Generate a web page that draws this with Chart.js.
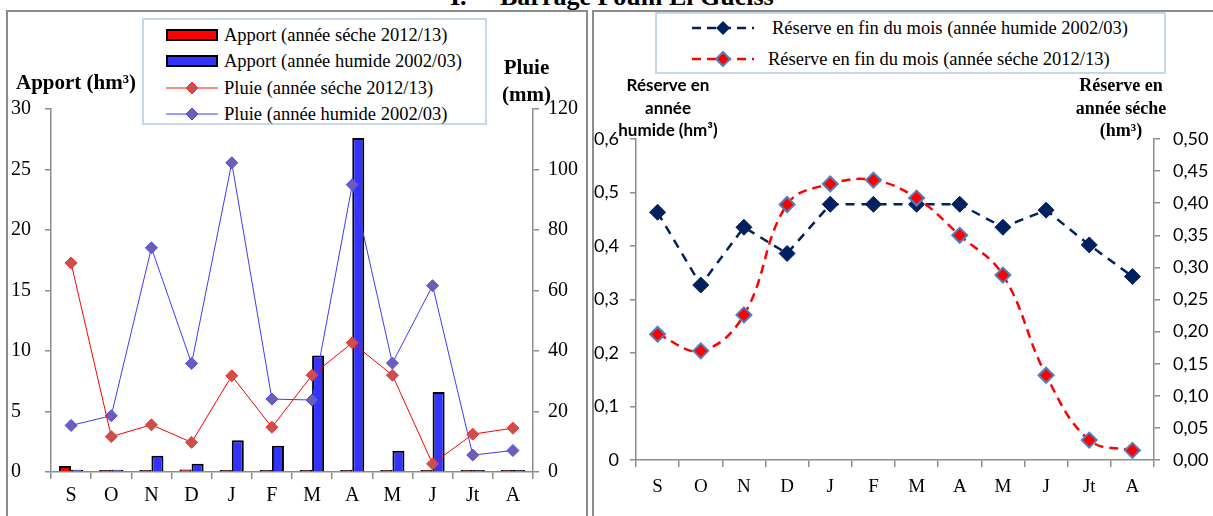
<!DOCTYPE html>
<html lang="fr">
<head>
<meta charset="utf-8">
<script src="https://cdn.jsdelivr.net/npm/chart.js@4.4.1/dist/chart.umd.min.js"></script>
<style>
  body { margin:0; width:1213px; height:516px; overflow:hidden; background:#fff; position:relative;
         font-family:'Liberation Serif', serif; color:#000 }
  .boite { position:absolute; border:2px solid #8c8c8c; box-sizing:border-box }
  canvas { position:absolute; top:0 }
  .titre { position:absolute; top:-16px; font:bold 26px/26px 'Liberation Serif', serif; white-space:nowrap }
  .legende { position:absolute; border:2px solid #c6d6ec; box-sizing:border-box; background:#fff }
  .ligne-leg { position:absolute; display:flex; align-items:center; white-space:nowrap }
  .ligne-leg svg { flex:none }
  .axe-titre { position:absolute; font-weight:bold; text-align:center; white-space:nowrap }
</style>
</head>
<body>

<!-- ── Cadres et titre ───────────────────────── -->
<div class="boite" style="left:6px;top:10px;width:582px;height:520px"></div>
<div class="boite" style="left:592px;top:10px;width:640px;height:520px"></div>
<div class="titre" style="left:450px">I.</div>
<div class="titre" style="left:500px">Barrage Foum El Gueiss</div>

<canvas id="graphe-apport" width="590" height="516" style="left:0"></canvas>
<canvas id="graphe-reserve" width="619" height="516" style="left:594px"></canvas>

<!-- ── Titres des axes ───────────────────────── -->
<div class="axe-titre" style="left:16px;top:70px;font-size:21px;line-height:24px">Apport (hm³)</div>
<div class="axe-titre" style="left:502px;top:54px;font-size:21px;line-height:27px">Pluie<br>(mm)</div>
<div class="axe-titre" style="left:609px;top:74px;width:118px;font:bold 17px/22.5px Lato, sans-serif">Réserve en<br>année<br>humide (hm³)</div>
<div class="axe-titre" style="left:1061px;top:74px;width:120px;font:bold 18px/22.5px 'Liberation Serif', serif">Réserve en<br>année séche<br>(hm³)</div>

<!-- ── Légende gauche ────────────────────────── -->
<div class="legende" style="left:142px;top:18px;width:345px;height:107px">
  <div class="ligne-leg" style="left:22px;top:4px;height:22px;font-size:18.5px">
    <svg width="52" height="12"><rect x="1" y="1" width="50" height="10" fill="#ff0000" stroke="#000" stroke-width="2"/></svg>
    <span style="margin-left:6px">Apport (année séche 2012/13)</span>
  </div>
  <div class="ligne-leg" style="left:22px;top:30px;height:22px;font-size:18.5px">
    <svg width="52" height="12"><rect x="1" y="1" width="50" height="10" fill="#3333ff" stroke="#000" stroke-width="2"/></svg>
    <span style="margin-left:6px">Apport (année humide 2002/03)</span>
  </div>
  <div class="ligne-leg" style="left:22px;top:57px;height:22px;font-size:18.5px">
    <svg width="52" height="14"><line x1="0" y1="7" x2="52" y2="7" stroke="#ff6060" stroke-width="1.5"/><path d="M26 1 L32 7 L26 13 L20 7 Z" fill="#c8504d" stroke="#ff3030"/></svg>
    <span style="margin-left:6px">Pluie (année séche 2012/13)</span>
  </div>
  <div class="ligne-leg" style="left:22px;top:83px;height:22px;font-size:18.5px">
    <svg width="52" height="14"><line x1="0" y1="7" x2="52" y2="7" stroke="#3b3bff" stroke-width="1"/><path d="M26 1 L32 7 L26 13 L20 7 Z" fill="#6f5db0" stroke="#4a4aff"/></svg>
    <span style="margin-left:6px">Pluie (année humide 2002/03)</span>
  </div>
</div>

<!-- ── Légende droite ────────────────────────── -->
<div class="legende" style="left:655px;top:12px;width:511px;height:62px">
  <div class="ligne-leg" style="left:35px;top:3px;height:22px;font-size:18.5px">
    <svg width="62" height="16"><line x1="0" y1="8" x2="62" y2="8" stroke="#002060" stroke-width="2.5" stroke-dasharray="9,6"/><path d="M31 1 L38 8 L31 15 L24 8 Z" fill="#002060"/></svg>
    <span style="margin-left:18px">Réserve en fin du mois (année humide 2002/03)</span>
  </div>
  <div class="ligne-leg" style="left:35px;top:34px;height:22px;font-size:18.5px">
    <svg width="62" height="16"><line x1="0" y1="8" x2="62" y2="8" stroke="#ff0000" stroke-width="2.5" stroke-dasharray="9,6"/><path d="M31 1 L38 8 L31 15 L24 8 Z" fill="#ff0000" stroke="#4f81bd" stroke-width="2"/></svg>
    <span style="margin-left:14px">Réserve en fin du mois (année séche 2012/13)</span>
  </div>
</div>

<script>
// ── Données ───────────────────────────────────
const mois = ['S', 'O', 'N', 'D', 'J', 'F', 'M', 'A', 'M', 'J', 'Jt', 'A']

// Apport mensuel (hm³)
const apportSec    = [0.5, 0.03, 0.08, 0.2, 0.15, 0.03, 0.03, 0.03, 0.03, 0.12, 0.08, 0.1]
const apportHumide = [0.18, 0.18, 1.35, 0.68, 2.62, 2.16, 9.63, 27.6, 1.76, 6.62, 0.12, 0.08]

// Pluie mensuelle (mm)
const pluieSec    = [69.1, 11.7, 15.6, 9.8, 31.8, 14.8, 32.0, 42.7, 32.0, 2.7, 12.5, 14.5]
const pluieHumide = [15.4, 18.6, 74.1, 35.9, 102.2, 24.1, 23.8, 95.0, 36.0, 61.6, 5.6, 7.1]

// Réserve en fin de mois (hm³)
const reserveHumide = [0.463, 0.327, 0.435, 0.386, 0.478, 0.478, 0.478, 0.478, 0.435, 0.467, 0.402, 0.343]
const reserveSec    = [0.196, 0.170, 0.226, 0.398, 0.430, 0.436, 0.408, 0.350, 0.288, 0.132, 0.031, 0.015]

// ── Style commun ──────────────────────────────
const GRIS = '#8c8c8c'
const serif = (size) => ({ family: "'Liberation Serif', serif", size })
const sans  = (size) => ({ family: "Lato, sans-serif", size })

const axeX = (padding, hauteur, taille) => ({
  offset: true,
  grid: { offset: true, drawOnChartArea: false, tickLength: 7, color: GRIS, lineWidth: 1.5 },
  border: { color: GRIS, width: 1.5 },
  ticks: { color: '#000', font: serif(taille), padding, maxRotation: 0, autoSkip: false },
  afterFit: s => { s.height = hauteur }
})

const axeY = (position, opts) => ({
  position,
  min: opts.min, max: opts.max,
  grid: { drawOnChartArea: false, tickLength: 6, color: GRIS, lineWidth: 1.5 },
  border: { color: GRIS, width: 1.5 },
  ticks: {
    stepSize: opts.pas, color: '#000', font: opts.font, padding: opts.padding,
    crossAlign: opts.crossAlign || 'near',
    callback: opts.format || (v => v)
  },
  afterFit: s => { s.width = opts.largeur }
})

// ── Graphe Apport / Pluie ─────────────────────
new Chart(document.getElementById('graphe-apport'), {
  type: 'bar',
  data: {
    labels: mois,
    datasets: [
      { type: 'line', label: 'Pluie (année séche 2012/13)', data: pluieSec, yAxisID: 'y1',
        borderColor: '#ff0000', borderWidth: 1, pointStyle: 'rectRot', pointRadius: 6,
        pointBackgroundColor: '#c8504d', pointBorderColor: '#ff3030', pointBorderWidth: 1, order: 0 },
      { type: 'line', label: 'Pluie (année humide 2002/03)', data: pluieHumide, yAxisID: 'y1',
        borderColor: '#3b3bff', borderWidth: 1, pointStyle: 'rectRot', pointRadius: 6,
        pointBackgroundColor: '#6f5db0', pointBorderColor: '#4a4aff', pointBorderWidth: 1, order: 1 },
      { label: 'Apport (année séche 2012/13)', data: apportSec, yAxisID: 'y',
        backgroundColor: '#ff0000', borderColor: '#000', borderWidth: 2, minBarLength: 2,
        categoryPercentage: 0.6, barPercentage: 1, order: 2 },
      { label: 'Apport (année humide 2002/03)', data: apportHumide, yAxisID: 'y',
        backgroundColor: '#3333ff', borderColor: '#000', borderWidth: 2, minBarLength: 2,
        categoryPercentage: 0.6, barPercentage: 1, order: 3 }
    ]
  },
  options: {
    responsive: false,
    animation: false,
    devicePixelRatio: 1,
    layout: { padding: { left: 11, top: 109, right: 0, bottom: 0 } },
    plugins: { legend: { display: false }, tooltip: { enabled: false } },
    scales: {
      x: axeX(5, 44, 20),
      y: axeY('left', { min: 0, max: 30, pas: 5, font: serif(20), padding: 6, crossAlign: 'far', largeur: 40 }),
      y1: axeY('right', { min: 0, max: 120, pas: 20, font: serif(20), padding: 9, largeur: 57 })
    }
  }
})

// ── Graphe Réserve ────────────────────────────
const virgule = (v, d) => v === 0 && d === 1 ? '0' : v.toFixed(d).replace('.', ',')

new Chart(document.getElementById('graphe-reserve'), {
  type: 'line',
  data: {
    labels: mois,
    datasets: [
      { label: 'Réserve en fin du mois (année séche 2012/13)', data: reserveSec, yAxisID: 'y1',
        borderColor: '#ff0000', borderWidth: 2.5, borderDash: [9, 6], tension: 0.4,
        pointStyle: 'rectRot', pointRadius: 7.5, pointBackgroundColor: '#ff0000',
        pointBorderColor: '#4f81bd', pointBorderWidth: 2, order: 0 },
      { label: 'Réserve en fin du mois (année humide 2002/03)', data: reserveHumide, yAxisID: 'y',
        borderColor: '#002060', borderWidth: 2.5, borderDash: [9, 7], tension: 0,
        pointStyle: 'rectRot', pointRadius: 8, pointBackgroundColor: '#002060',
        pointBorderColor: '#002060', pointBorderWidth: 1, order: 1 }
    ]
  },
  options: {
    responsive: false,
    animation: false,
    devicePixelRatio: 1,
    layout: { padding: { left: 0, top: 139, right: 0, bottom: 0 } },
    plugins: { legend: { display: false }, tooltip: { enabled: false } },
    scales: {
      x: axeX(9, 56, 19),
      y: axeY('left', { min: 0, max: 0.6, pas: 0.1, font: sans(18), padding: 11, largeur: 42,
                        format: v => virgule(v, 1) }),
      y1: axeY('right', { min: 0, max: 0.5, pas: 0.05, font: sans(18), padding: 13, largeur: 59,
                          format: v => virgule(v, 2) })
    }
  }
})
</script>
</body>
</html>
